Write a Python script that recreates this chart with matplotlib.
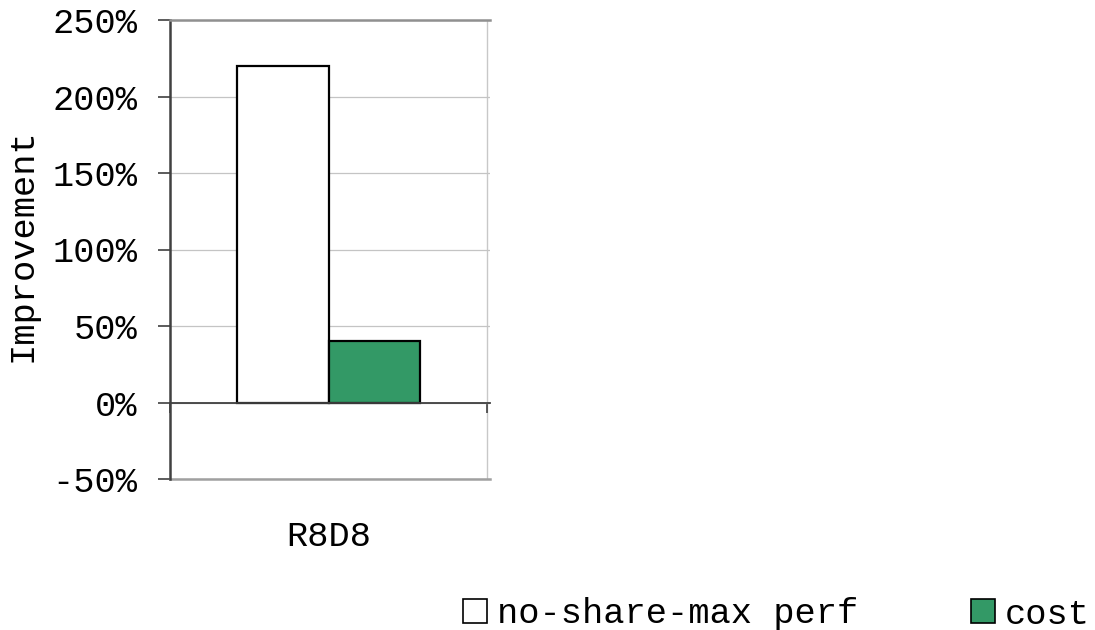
import matplotlib
matplotlib.use("Agg")
import matplotlib.pyplot as plt
import matplotlib.transforms as mtransforms
from matplotlib.patches import Patch

# data
categories = ["R8D8"]
series_names = ["no-share-max perf", "cost"]
no_share_max_perf = [220]
cost = [40]
y_ticks = [-50, 0, 50, 100, 150, 200, 250]
y_tick_labels = ["-50%", "0%", "50%", "100%", "150%", "200%", "250%"]

W, H = 1095, 630
FS = 25.5
DARK = "#404040"
GREEN = "#339966"

plt.rcParams.update({
    "font.family": ["Liberation Mono", "DejaVu Sans Mono"],
    "font.size": FS,
})

fig = plt.figure(figsize=(W / 100, H / 100), dpi=100)
ax = fig.add_axes([170 / W, (H - 479) / H, 320 / W, 459 / H])

width = 0.29
xs = list(range(len(categories)))
ax.bar([x - width / 2 for x in xs], no_share_max_perf, width, color="white",
       edgecolor="black", linewidth=1.6, zorder=3)
ax.bar([x + width / 2 for x in xs], cost, width, color=GREEN,
       edgecolor="black", linewidth=1.6, zorder=3)

ax.set_xlim(-0.5, 0.5 + 3 / 317)
ax.set_ylim(y_ticks[0], y_ticks[-1])

# y axis
ax.set_yticks(y_ticks)
ax.set_yticklabels(y_tick_labels)
ax.yaxis.grid(True, color="#c4c4c4", linewidth=0.9, zorder=0)
ax.set_axisbelow(True)
ax.tick_params(axis="y", direction="out", length=8.6, width=1.2, color=DARK,
               pad=15, labelsize=FS)

# category axis sits on the zero line
ax.spines["bottom"].set_position(("data", 0))
ax.spines["bottom"].set_color(DARK)
ax.spines["bottom"].set_linewidth(1.3)
ax.spines["bottom"].set_zorder(4)
ax.set_xticks([-0.5, 0.5])
ax.set_xticklabels([])
ax.tick_params(axis="x", direction="out", length=7, width=1.2, color=DARK)

ax.spines["left"].set_color(DARK)
ax.spines["left"].set_linewidth(1.8)
ax.spines["top"].set_color("#909090")
ax.spines["top"].set_linewidth(1.8)
ax.spines["right"].set_visible(False)
ax.axvline(0.5, color="#c8c8c8", linewidth=1.0, zorder=0)
ax.axhline(y_ticks[0], color="#a0a0a0", linewidth=1.8, clip_on=False)

trans = mtransforms.blended_transform_factory(ax.transData, ax.transAxes)
for x, cat in zip(xs, categories):
    ax.text(x, -0.126, cat, transform=trans, ha="center", va="center",
            fontsize=FS)

fig.text(22 / W, 1 - 245 / H, "Improvement", rotation=90, ha="center",
         va="center", fontsize=FS)

handles = [Patch(facecolor="white", edgecolor="black", linewidth=1.2),
           Patch(facecolor=GREEN, edgecolor="black", linewidth=1.2)]
fig.legend(handles, series_names, ncol=2, frameon=False, loc="center left",
           bbox_to_anchor=(463 / W, 1 - 614 / H), borderpad=0,
           borderaxespad=0, handlelength=0.67, handleheight=0.67,
           handletextpad=0.28, columnspacing=3.2, fontsize=FS)

fig.savefig("out.png", dpi=100)
